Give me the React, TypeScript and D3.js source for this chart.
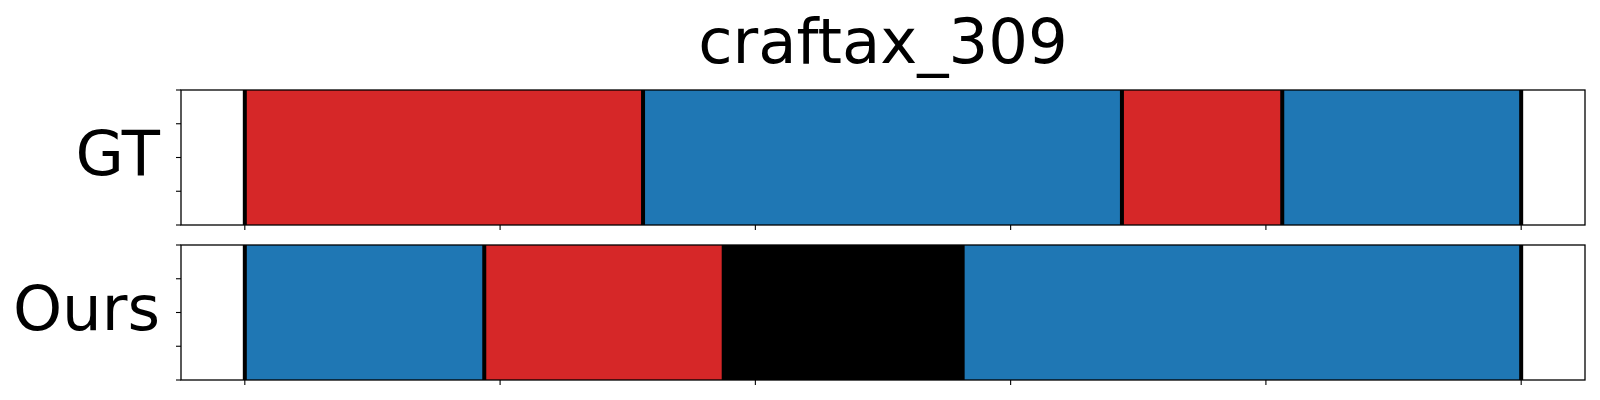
import React from "react";
import * as d3 from "d3";

// Chart data
const title = "craftax_309";
const rowNames = ["GT", "Ours"];
const classColors = ["#1f77b4", "#d62728", "#000000"];

// segment boundaries (frame index) and the class of each segment
const gtBounds = [0, 78, 171.8, 203.2, 250];
const gtClasses = [1, 0, 1, 0];
const oursBounds = [0, 46.9, 93.8, 140.6, 250];
const oursClasses = [0, 1, 2, 0];

const xTicks = [0, 50, 100, 150, 200, 250];
const yTicks = [0, 0.25, 0.5, 0.75, 1];

const rows = [
  { name: rowNames[0], bounds: gtBounds, classes: gtClasses },
  { name: rowNames[1], bounds: oursBounds, classes: oursClasses },
];

const App = () => {
  const width = 1600;
  const height = 400;
  const left = 181;
  const right = 1585;
  const panels = [
    { top: 90, bottom: 225 },
    { top: 245, bottom: 380 },
  ];
  const total = gtBounds[gtBounds.length - 1];

  const x = d3
    .scaleLinear()
    .domain([-0.05 * total, 1.05 * total])
    .range([left, right]);

  const font = "DejaVu Sans, sans-serif";

  return (
    <svg
      width={width}
      height={height}
      style={{ position: "absolute", left: 0, top: 0 }}
    >
      <rect width={width} height={height} fill="#fff" />
      <text
        x={(left + right) / 2}
        y={62.5}
        textAnchor="middle"
        fontFamily={font}
        fontSize={62.5}
      >
        {title}
      </text>
      {rows.map((row, ri) => {
        const { top, bottom } = panels[ri];
        const y = d3.scaleLinear().domain([0, 1]).range([bottom, top]);
        return (
          <g key={row.name}>
            {/* segments */}
            {row.classes.map((c, i) => (
              <rect
                key={i}
                x={x(row.bounds[i])}
                y={top}
                width={x(row.bounds[i + 1]) - x(row.bounds[i])}
                height={bottom - top}
                fill={classColors[c]}
              />
            ))}
            {/* boundary lines */}
            {row.bounds.map((b, i) => (
              <line
                key={"b" + i}
                x1={x(b)}
                x2={x(b)}
                y1={top}
                y2={bottom}
                stroke="#000"
                strokeWidth={4}
              />
            ))}
            {/* frame */}
            <rect
              x={left}
              y={top}
              width={right - left}
              height={bottom - top}
              fill="none"
              stroke="#000"
              strokeWidth={1.3}
            />
            {/* y ticks */}
            {yTicks.map((t) => (
              <line
                key={"y" + t}
                x1={left - 5}
                x2={left}
                y1={y(t)}
                y2={y(t)}
                stroke="#000"
                strokeWidth={1.1}
              />
            ))}
            {/* x ticks */}
            {xTicks.map((t) => (
              <line
                key={"x" + t}
                x1={x(t)}
                x2={x(t)}
                y1={bottom}
                y2={bottom + 5}
                stroke="#000"
                strokeWidth={1.1}
              />
            ))}
            <text
              x={160}
              y={(top + bottom) / 2 + 17}
              textAnchor="end"
              fontFamily={font}
              fontSize={62.5}
            >
              {row.name}
            </text>
          </g>
        );
      })}
    </svg>
  );
};

export default App;
